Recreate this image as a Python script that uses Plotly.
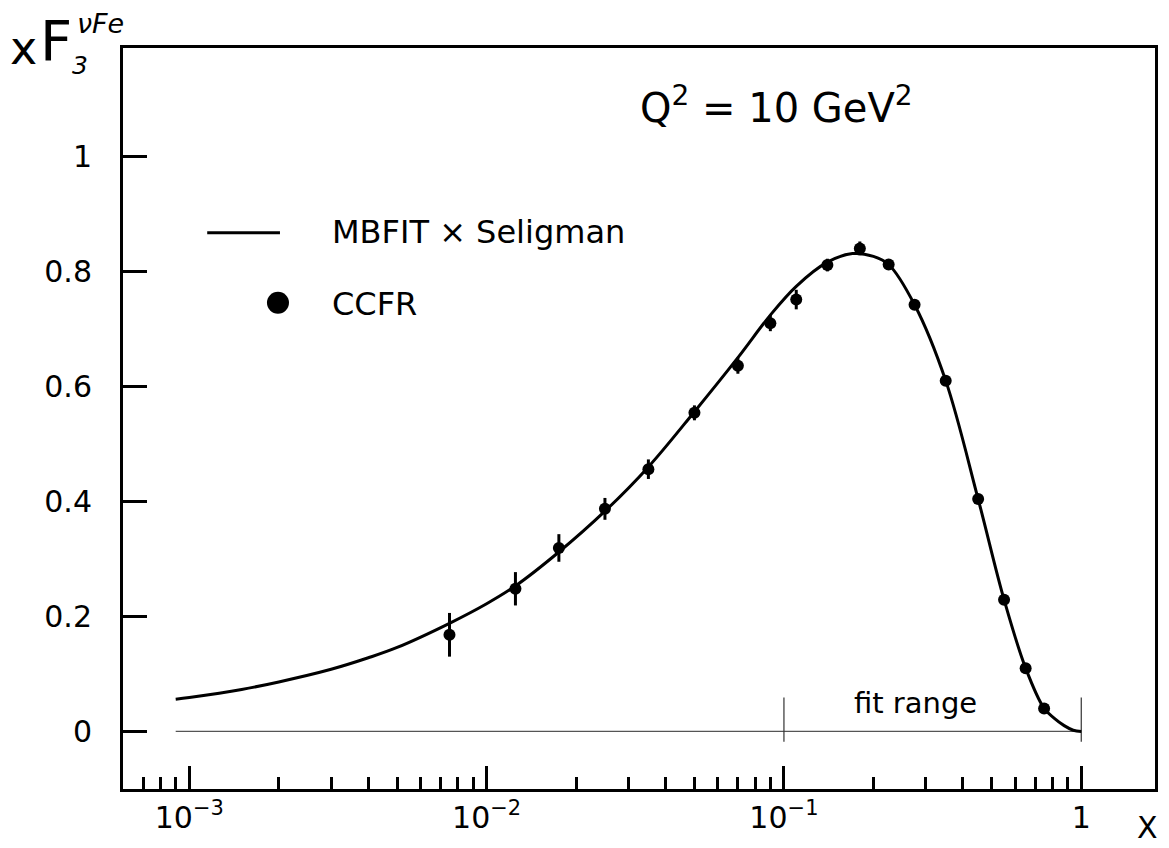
import math
import plotly.graph_objects as go

# ---------------- data ----------------
ccfr_x = [0.0075, 0.0125, 0.0175, 0.025, 0.035, 0.050, 0.070, 0.090, 0.110,
          0.140, 0.180, 0.225, 0.275, 0.350, 0.450, 0.550, 0.650, 0.750]
ccfr_y = [0.168, 0.248, 0.319, 0.387, 0.456, 0.554, 0.636, 0.710, 0.751,
          0.811, 0.840, 0.812, 0.742, 0.610, 0.404, 0.229, 0.110, 0.040]
ccfr_err = [0.038, 0.029, 0.024, 0.019, 0.017, 0.013, 0.014, 0.014, 0.017,
            0.011, 0.012, 0.008, 0.006, 0.006, 0.005, 0.005, 0.004, 0.003]

fit_x = [0.0009, 0.001, 0.0015, 0.002, 0.003, 0.004, 0.005, 0.0075, 0.01,
         0.0125, 0.0175, 0.025, 0.035, 0.05, 0.07, 0.09, 0.11, 0.14, 0.17,
         0.2, 0.225, 0.275, 0.35, 0.45, 0.55, 0.65, 0.75, 0.81, 0.876, 0.94, 1.0]
fit_y = [0.056, 0.059, 0.073, 0.086, 0.108, 0.128, 0.146, 0.188, 0.222,
         0.253, 0.312, 0.383, 0.460, 0.556, 0.650, 0.724, 0.774, 0.816, 0.831,
         0.826, 0.812, 0.742, 0.610, 0.404, 0.229, 0.110, 0.040, 0.023, 0.010, 0.002, 0.0]

baseline_x = [0.0009, 1.0]
baseline_y = [0.0, 0.0]
fit_range_x = [0.1, 1.0]
fit_range_y = [-0.018, 0.059]

x_tickvals = [0.001, 0.01, 0.1, 1]
x_ticktext = ["10<sup>\u22123</sup>", "10<sup>\u22122</sup>", "10<sup>\u22121</sup>", "1"]
y_tickvals = [0, 0.2, 0.4, 0.6, 0.8, 1.0]
y_ticktext = ["0", "0.2", "0.4", "0.6", "0.8", "1"]

legend_labels = ["MBFIT \u00d7 Seligman", "CCFR"]
q2_label = "Q<sup>2</sup> = 10 GeV<sup>2</sup>"
fit_range_label = "fit range"

# ---------------- layout helpers ----------------
OFF = 8  # page body margin
W, H = 1169 - OFF, 848 - OFF
# plot-area edges in page pixels
L_pg, R_pg, T_pg, B_pg = 122.5, 1158.0, 48.3, 789.3
L, R, T, B = L_pg - OFF, R_pg - OFF, T_pg - OFF, B_pg - OFF
FONT = "DejaVu Sans"


def px(x):
    return (x - L_pg) / (R_pg - L_pg)


def py(y):
    return (B_pg - y) / (B_pg - T_pg)


minor_vals = []
for d in (-4, -3, -2, -1):
    for m in range(2, 10):
        minor_vals.append(m * 10 ** d)

fig = go.Figure()

# baseline
fig.add_trace(go.Scatter(x=baseline_x, y=baseline_y, mode="lines",
                         line=dict(color="#555555", width=1.3),
                         hoverinfo="skip", showlegend=False))
# fit range markers
vx, vy = [], []
for xv in fit_range_x:
    vx += [xv, xv, None]
    vy += [fit_range_y[0], fit_range_y[1], None]
fig.add_trace(go.Scatter(x=vx, y=vy, mode="lines",
                         line=dict(color="#333333", width=1.2),
                         hoverinfo="skip", showlegend=False))
# fit curve
fig.add_trace(go.Scatter(x=fit_x, y=fit_y, mode="lines",
                         line=dict(color="black", width=3, shape="spline", smoothing=1.0),
                         name=legend_labels[0], showlegend=False))
# data
fig.add_trace(go.Scatter(x=ccfr_x, y=ccfr_y, mode="markers",
                         marker=dict(color="black", size=12),
                         error_y=dict(type="data", array=ccfr_err, width=0,
                                      thickness=3, color="black"),
                         name=legend_labels[1], showlegend=False))

fig.update_xaxes(type="log", range=[-3.223, 0.248],
                 showline=True, linecolor="black", linewidth=3, mirror=True,
                 ticks="inside", ticklen=23, tickwidth=3, tickcolor="black",
                 tickmode="array", tickvals=x_tickvals, ticktext=x_ticktext,
                 tickfont=dict(family=FONT, size=30, color="black"),
                 showgrid=False, zeroline=False,
                 minor=dict(ticks="inside", ticklen=12, tickwidth=2.5,
                            tickcolor="black", tickmode="array",
                            tickvals=minor_vals, showgrid=False))
fig.update_yaxes(range=[-0.1002, 1.1885],
                 showline=True, linecolor="black", linewidth=3, mirror=True,
                 ticks="inside", ticklen=24, tickwidth=3, tickcolor="black",
                 tickmode="array", tickvals=y_tickvals, ticktext=y_ticktext,
                 tickfont=dict(family=FONT, size=30, color="black"),
                 ticklabelstandoff=22,
                 showgrid=False, zeroline=False)

annotations = [
    dict(text="x", x=px(23), y=py(48), xanchor="center", yanchor="middle",
         font=dict(family=FONT, size=46)),
    dict(text="F", x=px(55), y=py(41), xanchor="center", yanchor="middle",
         font=dict(family=FONT, size=56)),
    dict(text="<i>3</i>", x=px(79), y=py(66), xanchor="center", yanchor="middle",
         font=dict(family=FONT, size=25)),
    dict(text="<i>\u03bdFe</i>", x=px(100), y=py(24), xanchor="center", yanchor="middle",
         font=dict(family=FONT, size=27)),
    dict(text=q2_label, x=px(778), y=py(105), xanchor="center", yanchor="middle",
         font=dict(family=FONT, size=40)),
    dict(text=legend_labels[0], x=px(330), y=py(232), xanchor="left", yanchor="middle",
         font=dict(family=FONT, size=32)),
    dict(text=legend_labels[1], x=px(330), y=py(304), xanchor="left", yanchor="middle",
         font=dict(family=FONT, size=32)),
    dict(text=fit_range_label, x=px(918), y=py(703), xanchor="center", yanchor="middle",
         font=dict(family=FONT, size=29)),
    dict(text="X", x=px(1150), y=py(828), xanchor="center", yanchor="middle",
         font=dict(family=FONT, size=30)),
]
for a in annotations:
    a.update(xref="paper", yref="paper", showarrow=False)
    a["font"]["color"] = "black"

shapes = [
    dict(type="line", xref="paper", yref="paper", x0=px(207), x1=px(280),
         y0=py(233), y1=py(233), line=dict(color="black", width=3)),
    dict(type="circle", xref="paper", yref="paper", xsizemode="pixel", ysizemode="pixel",
         xanchor=px(278), yanchor=py(303), x0=-11, x1=11, y0=-11, y1=11,
         fillcolor="black", line=dict(color="black", width=0)),
]

fig.update_layout(width=W, height=H, autosize=False,
                  margin=dict(l=L, r=W - R, t=T, b=H - B, pad=0),
                  paper_bgcolor="white", plot_bgcolor="white",
                  annotations=annotations, shapes=shapes,
                  font=dict(family=FONT, color="black"))

fig.write_html("out.html")
